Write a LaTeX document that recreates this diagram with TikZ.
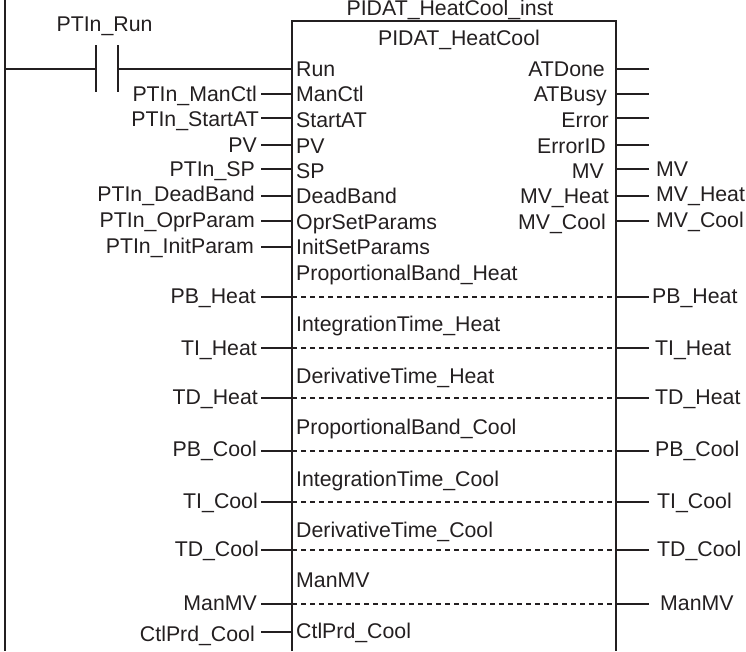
\documentclass[tikz,border=0pt]{standalone}
\usepackage{fontspec}
\setmainfont{Liberation Sans}
\usepackage{xcolor}
\usetikzlibrary{positioning}
\definecolor{ink}{HTML}{231F20}
\tikzset{
  wire/.style={draw=ink, line width=1.5pt},
  rail/.style={draw=ink, line width=2pt},
  param/.style={draw=ink, line width=1.2pt, dash pattern=on 5pt off 4pt},
  lbl/.style={font=\fontsize{21.3}{25}\selectfont, text=ink, inner sep=0pt},
  lr/.style={lbl, anchor=base east},
  ll/.style={lbl, anchor=base west}
}
\begin{document}
\begin{tikzpicture}[x=1pt, y=-1pt]
\useasboundingbox (0,0) rectangle (746,651);
% power rail and block outline
\coordinate (railtop) at (5,0);
\coordinate (railbot) at (5,651);
\coordinate (bl) at (292,651);
\coordinate (tl) at (292,21);
\coordinate (tr) at (616,21);
\coordinate (br) at (616,651);
\draw[rail] (railtop) -- (railbot);
\draw[wire] (bl) -- (tl) -- (tr) -- (br);
% contact
\coordinate (railrun) at (5,69);
\coordinate (ca) at (96,69);
\coordinate (cb) at (118,69);
\coordinate (pinrun) at (292,69);
\coordinate (catop) at (96,45);
\coordinate (cabot) at (96,92);
\coordinate (cbtop) at (118,45);
\coordinate (cbbot) at (118,92);
\draw[wire] (railrun) -- (ca);
\draw[wire] (cb) -- (pinrun);
\draw[wire, line width=1.2pt] (catop) -- (cabot);
\draw[wire, line width=1.2pt] (cbtop) -- (cbbot);
% titles
\node[lbl, anchor=base] (runname) at (104.5,31) {PTIn\_Run};
\node[lbl, anchor=base] (instname) at (450,15.5) {PIDAT\_HeatCool\_inst};
\node[lbl, anchor=base] (fbname) at (459,45) {PIDAT\_HeatCool};
% outer input labels
\node[lr] (vman) at (257,101) {PTIn\_ManCtl};
\node[lr] (vstart) at (259,126) {PTIn\_StartAT};
\node[lr] (vpv) at (257,152) {PV};
\node[lr] (vsp) at (255,176) {PTIn\_SP};
\node[lr] (vdead) at (255,201) {PTIn\_DeadBand};
\node[lr] (vopr) at (255,227) {PTIn\_OprParam};
\node[lr] (vinit) at (254,253) {PTIn\_InitParam};
\node[lr] (vpbh) at (256,303) {PB\_Heat};
\node[lr] (vtih) at (257,355) {TI\_Heat};
\node[lr] (vtdh) at (258,404) {TD\_Heat};
\node[lr] (vpbc) at (257,456) {PB\_Cool};
\node[lr] (vtic) at (258,508) {TI\_Cool};
\node[lr] (vtdc) at (259,556) {TD\_Cool};
\node[lr] (vmmv) at (257,610) {ManMV};
\node[lr] (vprd) at (255,641) {CtlPrd\_Cool};
% pin names, left side
\node[ll] (prun) at (296,76) {Run};
\node[ll] (pman) at (296,101) {ManCtl};
\node[ll] (pstart) at (296,127) {StartAT};
\node[ll] (ppv) at (296,153) {PV};
\node[ll] (psp) at (296,178) {SP};
\node[ll] (pdead) at (296,203) {DeadBand};
\node[ll] (popr) at (296,229) {OprSetParams};
\node[ll] (pinit) at (296,254) {InitSetParams};
\node[ll] (ppbh) at (296,280) {ProportionalBand\_Heat};
\node[ll] (ptih) at (296,331) {IntegrationTime\_Heat};
\node[ll] (ptdh) at (296,383) {DerivativeTime\_Heat};
\node[ll] (ppbc) at (296,434) {ProportionalBand\_Cool};
\node[ll] (ptic) at (296,486) {IntegrationTime\_Cool};
\node[ll] (ptdc) at (296,537) {DerivativeTime\_Cool};
\node[ll] (pmmv) at (296,587) {ManMV};
\node[ll] (pprd) at (296,638) {CtlPrd\_Cool};
% pin names, right side
\node[lr] (qdone) at (605,76) {ATDone};
\node[lr] (qbusy) at (607,101) {ATBusy};
\node[lr] (qerr) at (609,127) {Error};
\node[lr] (qid) at (606,153) {ErrorID};
\node[lr] (qmv) at (604,178) {MV};
\node[lr] (qmvh) at (609,203) {MV\_Heat};
\node[lr] (qmvc) at (606,229) {MV\_Cool};
% outer output labels
\node[ll] (omv) at (656,176) {MV};
\node[ll] (omvh) at (656,201) {MV\_Heat};
\node[ll] (omvc) at (656,227) {MV\_Cool};
\node[ll] (opbh) at (652,303) {PB\_Heat};
\node[ll] (otih) at (655,355) {TI\_Heat};
\node[ll] (otdh) at (655,404) {TD\_Heat};
\node[ll] (opbc) at (655,456) {PB\_Cool};
\node[ll] (otic) at (657,508) {TI\_Cool};
\node[ll] (otdc) at (657,556) {TD\_Cool};
\node[ll] (ommv) at (660,610) {ManMV};
% input wires
\coordinate (a1) at (261,94);  \coordinate (b1) at (292,94);
\coordinate (a2) at (261,118); \coordinate (b2) at (292,118);
\coordinate (a3) at (261,145); \coordinate (b3) at (292,145);
\coordinate (a4) at (261,169); \coordinate (b4) at (292,169);
\coordinate (a5) at (261,196); \coordinate (b5) at (292,196);
\coordinate (a6) at (261,221); \coordinate (b6) at (292,221);
\coordinate (a7) at (261,247); \coordinate (b7) at (292,247);
\coordinate (a8) at (261,632); \coordinate (b8) at (292,632);
\draw[wire] (a1) -- (b1);
\draw[wire] (a2) -- (b2);
\draw[wire] (a3) -- (b3);
\draw[wire] (a4) -- (b4);
\draw[wire] (a5) -- (b5);
\draw[wire] (a6) -- (b6);
\draw[wire] (a7) -- (b7);
\draw[wire] (a8) -- (b8);
% output wires
\coordinate (c1) at (616,69);  \coordinate (d1) at (649,69);
\coordinate (c2) at (616,94);  \coordinate (d2) at (649,94);
\coordinate (c3) at (616,118); \coordinate (d3) at (649,118);
\coordinate (c4) at (616,145); \coordinate (d4) at (649,145);
\coordinate (c5) at (616,169); \coordinate (d5) at (649,169);
\coordinate (c6) at (616,196); \coordinate (d6) at (649,196);
\coordinate (c7) at (616,221); \coordinate (d7) at (649,221);
\draw[wire] (c1) -- (d1);
\draw[wire] (c2) -- (d2);
\draw[wire] (c3) -- (d3);
\draw[wire] (c4) -- (d4);
\draw[wire] (c5) -- (d5);
\draw[wire] (c6) -- (d6);
\draw[wire] (c7) -- (d7);
% in-out parameters
\coordinate (e1) at (261,297); \coordinate (f1) at (292,297); \coordinate (g1) at (616,297); \coordinate (h1) at (649,297);
\coordinate (e2) at (261,348); \coordinate (f2) at (292,348); \coordinate (g2) at (616,348); \coordinate (h2) at (649,348);
\coordinate (e3) at (261,398); \coordinate (f3) at (292,398); \coordinate (g3) at (616,398); \coordinate (h3) at (649,398);
\coordinate (e4) at (261,451); \coordinate (f4) at (292,451); \coordinate (g4) at (616,451); \coordinate (h4) at (649,451);
\coordinate (e5) at (261,502); \coordinate (f5) at (292,502); \coordinate (g5) at (616,502); \coordinate (h5) at (649,502);
\coordinate (e6) at (261,550); \coordinate (f6) at (292,550); \coordinate (g6) at (616,550); \coordinate (h6) at (649,550);
\coordinate (e7) at (261,604); \coordinate (f7) at (292,604); \coordinate (g7) at (616,604); \coordinate (h7) at (649,604);
\draw[wire] (e1) -- (f1); \draw[param] (f1) -- (g1); \draw[wire] (g1) -- (h1);
\draw[wire] (e2) -- (f2); \draw[param] (f2) -- (g2); \draw[wire] (g2) -- (h2);
\draw[wire] (e3) -- (f3); \draw[param] (f3) -- (g3); \draw[wire] (g3) -- (h3);
\draw[wire] (e4) -- (f4); \draw[param] (f4) -- (g4); \draw[wire] (g4) -- (h4);
\draw[wire] (e5) -- (f5); \draw[param] (f5) -- (g5); \draw[wire] (g5) -- (h5);
\draw[wire] (e6) -- (f6); \draw[param] (f6) -- (g6); \draw[wire] (g6) -- (h6);
\draw[wire] (e7) -- (f7); \draw[param] (f7) -- (g7); \draw[wire] (g7) -- (h7);
\end{tikzpicture}
\end{document}
